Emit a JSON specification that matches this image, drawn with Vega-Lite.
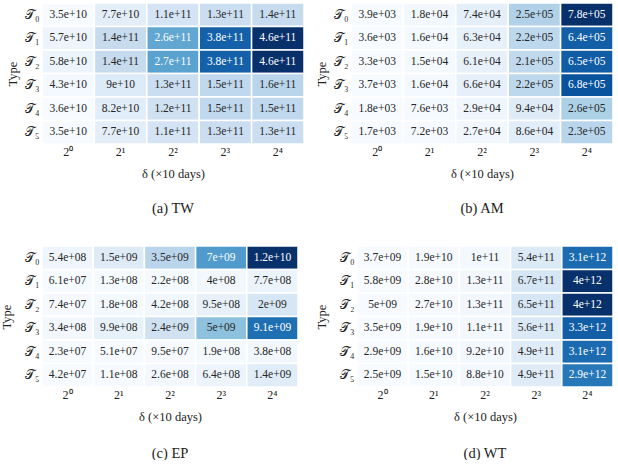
{
  "$schema": "https://vega.github.io/schema/vega-lite/v6.json",
  "padding": {"left": 0, "top": 2, "right": 0, "bottom": 0},
  "background": "white",
  "config": {
    "view": {"stroke": null},
    "axis": {"domain": false, "ticks": false, "labelFont": "Liberation Serif", "labelFontSize": 12, "labelColor": "#222222", "titleFont": "Liberation Serif", "titleFontSize": 12.5, "titleFontWeight": "normal", "titleColor": "#222222", "labelAngle": 0},
    "axisX": {"labelPadding": 2, "titlePadding": 10},
    "axisY": {"labelPadding": 3, "titlePadding": 5},
    "title": {"font": "Liberation Serif", "fontSize": 14.5, "fontWeight": "normal", "color": "#222222"}
  },
  "resolve": {"scale": {"color": "independent"}},
  "datasets": {"all": [
    {"p":"TW","t":0,"d":0,"v":3.5e10},{"p":"TW","t":0,"d":1,"v":7.7e10},{"p":"TW","t":0,"d":2,"v":1.1e11},{"p":"TW","t":0,"d":3,"v":1.3e11},{"p":"TW","t":0,"d":4,"v":1.4e11},
    {"p":"TW","t":1,"d":0,"v":5.7e10},{"p":"TW","t":1,"d":1,"v":1.4e11},{"p":"TW","t":1,"d":2,"v":2.6e11},{"p":"TW","t":1,"d":3,"v":3.8e11},{"p":"TW","t":1,"d":4,"v":4.6e11},
    {"p":"TW","t":2,"d":0,"v":5.8e10},{"p":"TW","t":2,"d":1,"v":1.4e11},{"p":"TW","t":2,"d":2,"v":2.7e11},{"p":"TW","t":2,"d":3,"v":3.8e11},{"p":"TW","t":2,"d":4,"v":4.6e11},
    {"p":"TW","t":3,"d":0,"v":4.3e10},{"p":"TW","t":3,"d":1,"v":9e10},{"p":"TW","t":3,"d":2,"v":1.3e11},{"p":"TW","t":3,"d":3,"v":1.5e11},{"p":"TW","t":3,"d":4,"v":1.6e11},
    {"p":"TW","t":4,"d":0,"v":3.6e10},{"p":"TW","t":4,"d":1,"v":8.2e10},{"p":"TW","t":4,"d":2,"v":1.2e11},{"p":"TW","t":4,"d":3,"v":1.5e11},{"p":"TW","t":4,"d":4,"v":1.5e11},
    {"p":"TW","t":5,"d":0,"v":3.5e10},{"p":"TW","t":5,"d":1,"v":7.7e10},{"p":"TW","t":5,"d":2,"v":1.1e11},{"p":"TW","t":5,"d":3,"v":1.3e11},{"p":"TW","t":5,"d":4,"v":1.3e11},
    {"p":"AM","t":0,"d":0,"v":3.9e3},{"p":"AM","t":0,"d":1,"v":1.8e4},{"p":"AM","t":0,"d":2,"v":7.4e4},{"p":"AM","t":0,"d":3,"v":2.5e5},{"p":"AM","t":0,"d":4,"v":7.8e5},
    {"p":"AM","t":1,"d":0,"v":3.6e3},{"p":"AM","t":1,"d":1,"v":1.6e4},{"p":"AM","t":1,"d":2,"v":6.3e4},{"p":"AM","t":1,"d":3,"v":2.2e5},{"p":"AM","t":1,"d":4,"v":6.4e5},
    {"p":"AM","t":2,"d":0,"v":3.3e3},{"p":"AM","t":2,"d":1,"v":1.5e4},{"p":"AM","t":2,"d":2,"v":6.1e4},{"p":"AM","t":2,"d":3,"v":2.1e5},{"p":"AM","t":2,"d":4,"v":6.5e5},
    {"p":"AM","t":3,"d":0,"v":3.7e3},{"p":"AM","t":3,"d":1,"v":1.6e4},{"p":"AM","t":3,"d":2,"v":6.6e4},{"p":"AM","t":3,"d":3,"v":2.2e5},{"p":"AM","t":3,"d":4,"v":6.8e5},
    {"p":"AM","t":4,"d":0,"v":1.8e3},{"p":"AM","t":4,"d":1,"v":7.6e3},{"p":"AM","t":4,"d":2,"v":2.9e4},{"p":"AM","t":4,"d":3,"v":9.4e4},{"p":"AM","t":4,"d":4,"v":2.6e5},
    {"p":"AM","t":5,"d":0,"v":1.7e3},{"p":"AM","t":5,"d":1,"v":7.2e3},{"p":"AM","t":5,"d":2,"v":2.7e4},{"p":"AM","t":5,"d":3,"v":8.6e4},{"p":"AM","t":5,"d":4,"v":2.3e5},
    {"p":"EP","t":0,"d":0,"v":5.4e8},{"p":"EP","t":0,"d":1,"v":1.5e9},{"p":"EP","t":0,"d":2,"v":3.5e9},{"p":"EP","t":0,"d":3,"v":7e9},{"p":"EP","t":0,"d":4,"v":1.2e10},
    {"p":"EP","t":1,"d":0,"v":6.1e7},{"p":"EP","t":1,"d":1,"v":1.3e8},{"p":"EP","t":1,"d":2,"v":2.2e8},{"p":"EP","t":1,"d":3,"v":4e8},{"p":"EP","t":1,"d":4,"v":7.7e8},
    {"p":"EP","t":2,"d":0,"v":7.4e7},{"p":"EP","t":2,"d":1,"v":1.8e8},{"p":"EP","t":2,"d":2,"v":4.2e8},{"p":"EP","t":2,"d":3,"v":9.5e8},{"p":"EP","t":2,"d":4,"v":2e9},
    {"p":"EP","t":3,"d":0,"v":3.4e8},{"p":"EP","t":3,"d":1,"v":9.9e8},{"p":"EP","t":3,"d":2,"v":2.4e9},{"p":"EP","t":3,"d":3,"v":5e9},{"p":"EP","t":3,"d":4,"v":9.1e9},
    {"p":"EP","t":4,"d":0,"v":2.3e7},{"p":"EP","t":4,"d":1,"v":5.1e7},{"p":"EP","t":4,"d":2,"v":9.5e7},{"p":"EP","t":4,"d":3,"v":1.9e8},{"p":"EP","t":4,"d":4,"v":3.8e8},
    {"p":"EP","t":5,"d":0,"v":4.2e7},{"p":"EP","t":5,"d":1,"v":1.1e8},{"p":"EP","t":5,"d":2,"v":2.6e8},{"p":"EP","t":5,"d":3,"v":6.4e8},{"p":"EP","t":5,"d":4,"v":1.4e9},
    {"p":"WT","t":0,"d":0,"v":3.7e9},{"p":"WT","t":0,"d":1,"v":1.9e10},{"p":"WT","t":0,"d":2,"v":1e11},{"p":"WT","t":0,"d":3,"v":5.4e11},{"p":"WT","t":0,"d":4,"v":3.1e12},
    {"p":"WT","t":1,"d":0,"v":5.8e9},{"p":"WT","t":1,"d":1,"v":2.8e10},{"p":"WT","t":1,"d":2,"v":1.3e11},{"p":"WT","t":1,"d":3,"v":6.7e11},{"p":"WT","t":1,"d":4,"v":4e12},
    {"p":"WT","t":2,"d":0,"v":5e9},{"p":"WT","t":2,"d":1,"v":2.7e10},{"p":"WT","t":2,"d":2,"v":1.3e11},{"p":"WT","t":2,"d":3,"v":6.5e11},{"p":"WT","t":2,"d":4,"v":4e12},
    {"p":"WT","t":3,"d":0,"v":3.5e9},{"p":"WT","t":3,"d":1,"v":1.9e10},{"p":"WT","t":3,"d":2,"v":1.1e11},{"p":"WT","t":3,"d":3,"v":5.6e11},{"p":"WT","t":3,"d":4,"v":3.3e12},
    {"p":"WT","t":4,"d":0,"v":2.9e9},{"p":"WT","t":4,"d":1,"v":1.6e10},{"p":"WT","t":4,"d":2,"v":9.2e10},{"p":"WT","t":4,"d":3,"v":4.9e11},{"p":"WT","t":4,"d":4,"v":3.1e12},
    {"p":"WT","t":5,"d":0,"v":2.5e9},{"p":"WT","t":5,"d":1,"v":1.5e10},{"p":"WT","t":5,"d":2,"v":8.8e10},{"p":"WT","t":5,"d":3,"v":4.9e11},{"p":"WT","t":5,"d":4,"v":2.9e12}
  ]},
  "vconcat": [
    {"hconcat": [
      {
        "width": 262, "height": 141,
        "data": {"name": "all"},
        "transform": [
          {"filter": "datum.p == 'TW'"},
          {"joinaggregate": [{"op": "min", "field": "v", "as": "mn"}, {"op": "max", "field": "v", "as": "mx"}]},
          {"calculate": "format(datum.v, '.1~e')", "as": "s"},
          {"calculate": "length(datum.s) - indexof(datum.s, 'e+') == 3 ? replace(datum.s, 'e+', 'e+0') : datum.s", "as": "lab"}
        ],
        "title": {"text": "(a)  TW", "orient": "bottom", "offset": 22},
        "encoding": {
          "x": {"field": "d", "type": "ordinal", "axis": {"labelExpr": "'2' + ['⁰','¹','²','³','⁴'][datum.value]", "title": "δ (×10 days)"}},
          "y": {"field": "t", "type": "ordinal", "axis": {"labelExpr": "'𝒯' + ['₀','₁','₂','₃','₄','₅'][datum.value]", "title": "Type", "labelFontSize": 13}}
        },
        "layer": [
          {"mark": {"type": "rect", "stroke": "white", "strokeWidth": 1.5}, "encoding": {"color": {"field": "v", "type": "quantitative", "legend": null, "scale": {"range": ["#f7fbff", "#deebf7", "#c6dbef", "#9ecae1", "#6baed6", "#4292c6", "#2171b5", "#08519c", "#08306b"]}}}},
          {"mark": {"type": "text", "font": "Liberation Serif", "fontSize": 11.5}, "encoding": {"text": {"field": "lab", "type": "nominal"}, "color": {"condition": {"test": "(datum.v - datum.mn) / (datum.mx - datum.mn) > 0.5", "value": "white"}, "value": "#262626"}}}
        ]
      },
      {
        "width": 262, "height": 141,
        "data": {"name": "all"},
        "transform": [
          {"filter": "datum.p == 'AM'"},
          {"joinaggregate": [{"op": "min", "field": "v", "as": "mn"}, {"op": "max", "field": "v", "as": "mx"}]},
          {"calculate": "format(datum.v, '.1~e')", "as": "s"},
          {"calculate": "length(datum.s) - indexof(datum.s, 'e+') == 3 ? replace(datum.s, 'e+', 'e+0') : datum.s", "as": "lab"}
        ],
        "title": {"text": "(b)  AM", "orient": "bottom", "offset": 22},
        "encoding": {
          "x": {"field": "d", "type": "ordinal", "axis": {"labelExpr": "'2' + ['⁰','¹','²','³','⁴'][datum.value]", "title": "δ (×10 days)"}},
          "y": {"field": "t", "type": "ordinal", "axis": {"labelExpr": "'𝒯' + ['₀','₁','₂','₃','₄','₅'][datum.value]", "title": "Type", "labelFontSize": 13}}
        },
        "layer": [
          {"mark": {"type": "rect", "stroke": "white", "strokeWidth": 1.5}, "encoding": {"color": {"field": "v", "type": "quantitative", "legend": null, "scale": {"range": ["#f7fbff", "#deebf7", "#c6dbef", "#9ecae1", "#6baed6", "#4292c6", "#2171b5", "#08519c", "#08306b"]}}}},
          {"mark": {"type": "text", "font": "Liberation Serif", "fontSize": 11.5}, "encoding": {"text": {"field": "lab", "type": "nominal"}, "color": {"condition": {"test": "(datum.v - datum.mn) / (datum.mx - datum.mn) > 0.5", "value": "white"}, "value": "#262626"}}}
        ]
      }
    ], "spacing": 10, "resolve": {"scale": {"color": "independent"}}},
    {"hconcat": [
      {
        "width": 256, "height": 141,
        "data": {"name": "all"},
        "transform": [
          {"filter": "datum.p == 'EP'"},
          {"joinaggregate": [{"op": "min", "field": "v", "as": "mn"}, {"op": "max", "field": "v", "as": "mx"}]},
          {"calculate": "format(datum.v, '.1~e')", "as": "s"},
          {"calculate": "length(datum.s) - indexof(datum.s, 'e+') == 3 ? replace(datum.s, 'e+', 'e+0') : datum.s", "as": "lab"}
        ],
        "title": {"text": "(c)  EP", "orient": "bottom", "offset": 24},
        "encoding": {
          "x": {"field": "d", "type": "ordinal", "axis": {"labelExpr": "'2' + ['⁰','¹','²','³','⁴'][datum.value]", "title": "δ (×10 days)"}},
          "y": {"field": "t", "type": "ordinal", "axis": {"labelExpr": "'𝒯' + ['₀','₁','₂','₃','₄','₅'][datum.value]", "title": "Type", "labelFontSize": 13, "titlePadding": 11}}
        },
        "layer": [
          {"mark": {"type": "rect", "stroke": "white", "strokeWidth": 1.5}, "encoding": {"color": {"field": "v", "type": "quantitative", "legend": null, "scale": {"range": ["#f7fbff", "#deebf7", "#c6dbef", "#9ecae1", "#6baed6", "#4292c6", "#2171b5", "#08519c", "#08306b"]}}}},
          {"mark": {"type": "text", "font": "Liberation Serif", "fontSize": 11.5}, "encoding": {"text": {"field": "lab", "type": "nominal"}, "color": {"condition": {"test": "(datum.v - datum.mn) / (datum.mx - datum.mn) > 0.5", "value": "white"}, "value": "#262626"}}}
        ]
      },
      {
        "width": 256, "height": 141,
        "data": {"name": "all"},
        "transform": [
          {"filter": "datum.p == 'WT'"},
          {"joinaggregate": [{"op": "min", "field": "v", "as": "mn"}, {"op": "max", "field": "v", "as": "mx"}]},
          {"calculate": "format(datum.v, '.1~e')", "as": "s"},
          {"calculate": "length(datum.s) - indexof(datum.s, 'e+') == 3 ? replace(datum.s, 'e+', 'e+0') : datum.s", "as": "lab"}
        ],
        "title": {"text": "(d)  WT", "orient": "bottom", "offset": 24},
        "encoding": {
          "x": {"field": "d", "type": "ordinal", "axis": {"labelExpr": "'2' + ['⁰','¹','²','³','⁴'][datum.value]", "title": "δ (×10 days)"}},
          "y": {"field": "t", "type": "ordinal", "axis": {"labelExpr": "'𝒯' + ['₀','₁','₂','₃','₄','₅'][datum.value]", "title": "Type", "labelFontSize": 13, "titlePadding": 11}}
        },
        "layer": [
          {"mark": {"type": "rect", "stroke": "white", "strokeWidth": 1.5}, "encoding": {"color": {"field": "v", "type": "quantitative", "legend": null, "scale": {"range": ["#f7fbff", "#deebf7", "#c6dbef", "#9ecae1", "#6baed6", "#4292c6", "#2171b5", "#08519c", "#08306b"]}}}},
          {"mark": {"type": "text", "font": "Liberation Serif", "fontSize": 11.5}, "encoding": {"text": {"field": "lab", "type": "nominal"}, "color": {"condition": {"test": "(datum.v - datum.mn) / (datum.mx - datum.mn) > 0.5", "value": "white"}, "value": "#262626"}}}
        ]
      }
    ], "spacing": 16, "resolve": {"scale": {"color": "independent"}}}
  ],
  "spacing": 30
}
